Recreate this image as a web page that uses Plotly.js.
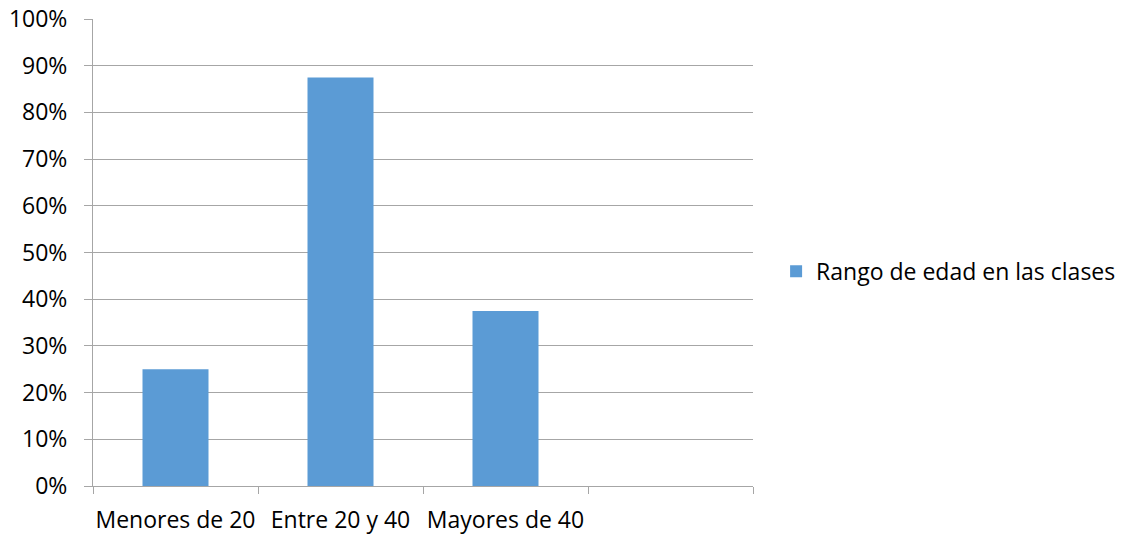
<!DOCTYPE html>
<html>
<head>
<meta charset="utf-8">
<script src="https://cdn.plot.ly/plotly-3.0.1.min.js"></script>
<style>html,body{margin:0;padding:0;background:#fff;}#chart{width:1123px;height:537px;}</style>
</head>
<body>
<div id="chart"></div>
<script>
var categories = ["Menores de 20", "Entre 20 y 40", "Mayores de 40", ""];
var values = [0.25, 0.875, 0.375, null];
var seriesName = "Rango de edad en las clases";

var idx = categories.map(function (c, i) { return i; });

var font = "Open Sans, sans-serif";
var fs = 23;
var trace = {
  type: "bar",
  x: idx,
  y: values,
  name: seriesName,
  width: 0.4,
  marker: { color: "#5B9BD5" },
  showlegend: true,
  hoverinfo: "none"
};

var layout = {
  width: 1123, height: 537,
  margin: { l: 93, r: 370, t: 19, b: 51, autoexpand: false },
  paper_bgcolor: "#fff", plot_bgcolor: "#fff",
  font: { family: font, size: fs, color: "#000" },
  xaxis: {
    range: [-0.5, 3.5],
    tickmode: "array",
    tickvals: idx,
    ticktext: categories,
    tickangle: 0,
    ticks: "",
    showgrid: false, zeroline: false,
    showline: true, linecolor: "#a6a6a6", linewidth: 1,
    minor: { tickmode: "linear", tick0: -0.5, dtick: 1, ticks: "outside", ticklen: 7, tickcolor: "#a6a6a6", tickwidth: 1, showgrid: false },
    tickfont: { family: font, size: fs },
    ticklabelstandoff: 13,
    automargin: false,
    fixedrange: true
  },
  yaxis: {
    range: [0, 1],
    tickmode: "linear", tick0: 0, dtick: 0.1,
    tickformat: ".0%",
    showgrid: true, gridcolor: "#a6a6a6", gridwidth: 1,
    zeroline: false,
    showline: true, linecolor: "#a6a6a6", linewidth: 1,
    ticks: "outside", ticklen: 8, tickcolor: "#a6a6a6",
    tickfont: { family: font, size: fs },
    ticklabelstandoff: 12,
    automargin: false,
    fixedrange: true
  },
  legend: {
    x: 1.035, xanchor: "left", y: 0.46, yanchor: "middle",
    font: { family: font, size: fs },
    itemwidth: 30,
    bgcolor: "rgba(0,0,0,0)"
  }
};

Plotly.newPlot("chart", [trace], layout, { staticPlot: true, displayModeBar: false });
</script>
</body>
</html>
